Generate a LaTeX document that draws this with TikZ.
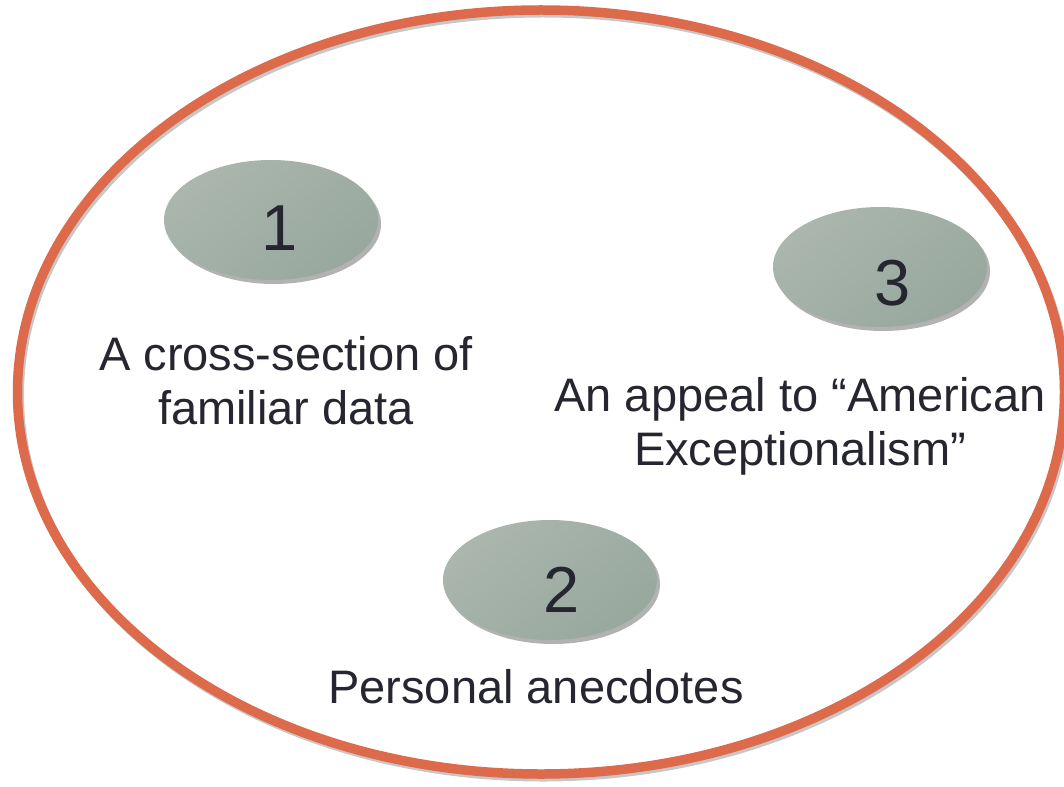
\documentclass[tikz,border=0pt]{standalone}
\usepackage{fontspec}
\setmainfont{Liberation Sans}
\usetikzlibrary{shapes.geometric,shadows}
\definecolor{ringorange}{HTML}{DE6A4C}
\definecolor{blobA}{HTML}{AAB6AE}
\definecolor{blobB}{HTML}{A5B1A9}
\definecolor{blobC}{HTML}{98A89F}
\definecolor{inktext}{HTML}{262630}
\tikzset{
  blob/.style={ellipse, minimum width=214pt, minimum height=120pt, inner sep=0pt,
    shading=axis, top color=blobA, middle color=blobB, bottom color=blobC, shading angle=40,
    drop shadow={shadow xshift=3pt, shadow yshift=-4pt, fill=black, opacity=0.3}},
  num/.style={anchor=base, inner sep=0pt, text=inktext, font=\fontsize{65}{70}\selectfont},
  lbl/.style={anchor=base, inner sep=0pt, text=inktext, align=center, font=\fontsize{47}{54}\selectfont},
}
\begin{document}
\begin{tikzpicture}[x=1pt,y=-1pt]
\useasboundingbox (0,0) rectangle (1064,786);
\clip (0,0) rectangle (1064,786);
\fill[white] (0,0) rectangle (1064,786);
% ring shadow and ring
\draw[black, opacity=0.22, line width=9pt] (543,395) ellipse [x radius=523.5, y radius=382];
\draw[ringorange, line width=9.5pt] (541,392) ellipse [x radius=523.5, y radius=382];
% blobs
\node[blob] (e1) at (271,220) {};
\node[blob] (e3) at (880,267) {};
\node[blob] (e2) at (550,580) {};
\node[num] (n1) at (280,250) {1};
\node[num] (n3) at (893,305) {3};
\node[num] (n2) at (562,612) {2};
% labels (base anchor = baseline of the last line)
\node[lbl] (t1) at (286,424) {A cross-section of\\familiar data};
\node[lbl] (t3) at (800,465) {An appeal to “American\\Exceptionalism”};
\node[lbl] (t2) at (536,703) {Personal anecdotes};
\end{tikzpicture}
\end{document}
